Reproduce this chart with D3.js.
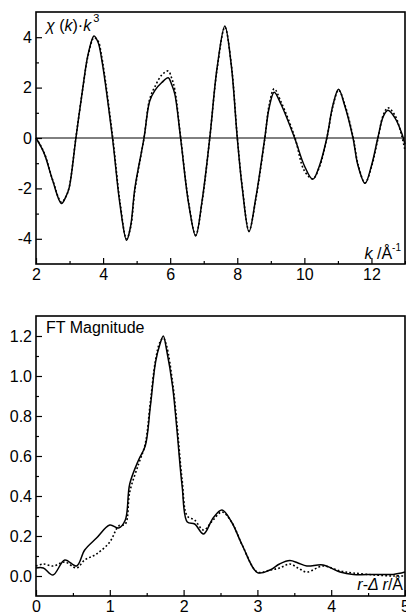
<!DOCTYPE html>
<html>
<head>
<meta charset="utf-8">
<script src="https://cdn.jsdelivr.net/npm/d3@7"></script>
<style>
  body { margin: 0; background: #fff; }
  svg { display: block; font-family: "Liberation Sans", Arial, sans-serif; }
  .frame { fill: none; stroke: #000; stroke-width: 1.6; }
  .tick line { stroke: #000; stroke-width: 1.2; }
  .domain { display: none; }
  .tick text { font-size: 16px; fill: #000; }
</style>
</head>
<body>
<script>
"use strict";

// EXAFS chi(k)*k^3 (experiment solid, fit dotted)
const kValues = [2.0, 2.15, 2.27, 2.5, 2.76, 2.9, 2.99, 3.19, 3.41, 3.55, 3.73, 3.85, 3.95, 4.28, 4.5, 4.7, 4.82, 4.95,
  5.22, 5.39, 5.55, 5.75, 5.94, 6.05, 6.14, 6.31, 6.55, 6.76, 6.95, 7.18, 7.4, 7.63, 7.82, 8.0, 8.15, 8.35, 8.55, 8.82,
  8.95, 9.1, 9.3, 9.71, 10.0, 10.25, 10.45, 10.67, 10.85, 11.02, 11.2, 11.45, 11.6, 11.81, 12.0, 12.19, 12.35, 12.49,
  12.7, 12.9, 13.0];
const chiExp = [0, -0.35, -0.7, -1.7, -2.6, -2.3, -1.97, 0, 2.13, 3.3, 4.05, 3.8, 3.19, 0, -2.6, -4.06, -3.5, -1.97,
  0, 1.47, 1.9, 2.2, 2.39, 2.1, 1.73, 0, -2.6, -3.89, -2.5, 0, 2.8, 4.44, 2.9, 0, -2.0, -3.72, -2.4, 0,
  1.2, 1.82, 1.35, 0, -1.1, -1.64, -1.1, 0, 1.3, 1.93, 1.3, 0, -1.1, -1.8, -1.1, 0, 0.85, 1.1,
  0.8, 0.2, -0.25];
const chiFit = [0, -0.33, -0.68, -1.68, -2.55, -2.3, -1.95, 0.02, 2.1, 3.25, 3.98, 3.85, 3.3, 0.1, -2.5, -4.0, -3.55, -2.05,
  0, 1.55, 2.05, 2.5, 2.66, 2.35, 1.9, 0.05, -2.55, -3.85, -2.55, 0, 2.75, 4.4, 2.95, 0.05, -1.95, -3.68, -2.45, -0.05,
  1.3, 1.95, 1.45, 0.05, -1.3, -1.62, -1.15, 0, 1.25, 1.9, 1.35, 0.05, -1.05, -1.78, -1.15, -0.05, 0.9, 1.2,
  0.9, 0.1, -0.5];

// Fourier transform magnitude
const rValues = [0, 0.1, 0.23, 0.39, 0.55, 0.66, 0.82, 1.0, 1.12, 1.21, 1.27, 1.39, 1.48, 1.55, 1.62, 1.68, 1.725,
  1.77, 1.85, 1.91, 1.98, 2.05, 2.15, 2.27, 2.4, 2.52, 2.65, 2.8, 3.0, 3.17, 3.3, 3.44, 3.55, 3.67, 3.89, 4.12, 4.3,
  4.6, 4.84, 5.0];
const ftExp = [0.04, 0.04, 0.005, 0.08, 0.05, 0.13, 0.19, 0.255, 0.24, 0.28, 0.46, 0.58, 0.65, 0.85, 1.07, 1.16, 1.2,
  1.13, 0.95, 0.73, 0.45, 0.27, 0.26, 0.21, 0.29, 0.33, 0.27, 0.15, 0.017, 0.03, 0.06, 0.077, 0.065, 0.05, 0.055, 0.02, 0.008,
  0.008, 0.008, 0.02];
const ftFit = [0.05, 0.06, 0.05, 0.07, 0.04, 0.08, 0.11, 0.17, 0.25, 0.26, 0.42, 0.56, 0.66, 0.87, 1.08, 1.17, 1.19,
  1.15, 0.97, 0.76, 0.48, 0.3, 0.28, 0.23, 0.28, 0.32, 0.27, 0.15, 0.02, 0.03, 0.04, 0.06, 0.04, 0.02, 0.05, 0.025, 0.015,
  0.005, 0, 0];

const topTicksX = [2, 4, 6, 8, 10, 12];
const topTicksY = [-4, -2, 0, 2, 4];
const botTicksX = [0, 1, 2, 3, 4, 5];
const botTicksY = [0, 0.2, 0.4, 0.6, 0.8, 1.0, 1.2];

const w = 406;
const h = 616;
const svg = d3.select("body").append("svg").attr("width", w).attr("height", h);

// draws one framed panel and returns its scales
const panel = (box, xDomain, yDomain, xTicks, xMinor, yTicks, yMinor, yFmt) => {
  const x = d3.scaleLinear().domain(xDomain).range([box.left, box.right]);
  const y = d3.scaleLinear().domain(yDomain).range([box.bottom, box.top]);
  const g = svg.append("g");

  g.append("g").attr("transform", `translate(0,${box.bottom})`)
    .call(d3.axisBottom(x).tickValues(xMinor).tickSize(-3).tickFormat(""));
  g.append("g").attr("transform", `translate(0,${box.bottom})`)
    .call(d3.axisBottom(x).tickValues(xTicks).tickSize(-6).tickPadding(5).tickFormat(d3.format("d")));
  g.append("g").attr("transform", `translate(${box.left},0)`)
    .call(d3.axisLeft(y).tickValues(yMinor).tickSize(-3).tickFormat(""));
  g.append("g").attr("transform", `translate(${box.left},0)`)
    .call(d3.axisLeft(y).tickValues(yTicks).tickSize(-6).tickPadding(4).tickFormat(yFmt));

  g.selectAll(".tick text").text(function () { return this.textContent.replace("−", "-"); });

  g.append("rect").attr("class", "frame")
    .attr("x", box.left).attr("y", box.top)
    .attr("width", box.right - box.left).attr("height", box.bottom - box.top);
  return { x, y, g };
};

const drawLine = (p, xs, ys, dotted) => {
  const line = d3.line().x((d) => p.x(d[0])).y((d) => p.y(d[1])).curve(d3.curveCatmullRom.alpha(0.5));
  p.g.append("path")
    .datum(xs.map((v, i) => [v, ys[i]]))
    .attr("fill", "none")
    .attr("stroke", "#000")
    .attr("stroke-width", dotted ? 1.6 : 1.5)
    .attr("stroke-dasharray", dotted ? "1.8,2.2" : null)
    .attr("d", line);
};

//Top panel
const chiPanel = panel({ left: 36, right: 405, top: 12, bottom: 264 }, [2, 13], [-5, 5],
  topTicksX, [3, 5, 7, 9, 11, 13], topTicksY, [-3, -1, 1, 3], d3.format("d"));

chiPanel.g.append("line")
  .attr("x1", chiPanel.x(2)).attr("x2", chiPanel.x(13))
  .attr("y1", chiPanel.y(0)).attr("y2", chiPanel.y(0))
  .attr("stroke", "#000").attr("stroke-width", 1);

drawLine(chiPanel, kValues, chiFit, true);
drawLine(chiPanel, kValues, chiExp, false);

const t1 = chiPanel.g.append("text").attr("x", 46).attr("y", 31).attr("font-size", 16);
t1.append("tspan").attr("font-style", "italic").text("χ");
t1.append("tspan").text(" (");
t1.append("tspan").attr("font-style", "italic").text("k");
t1.append("tspan").text(")·");
t1.append("tspan").attr("font-style", "italic").text("k");
t1.append("tspan").attr("dy", -9).attr("dx", 2).attr("font-size", 11).text("3");

const t2 = chiPanel.g.append("text").attr("x", 401).attr("y", 259).attr("font-size", 16).attr("text-anchor", "end");
t2.append("tspan").attr("font-style", "italic").text("k");
t2.append("tspan").text(" /Å");
t2.append("tspan").attr("dy", -8).attr("font-size", 10).text("-1");

//Bottom panel
const ftPanel = panel({ left: 36, right: 405, top: 316, bottom: 596 }, [0, 5], [-0.1, 1.3],
  botTicksX, d3.range(0.5, 5, 1), botTicksY, [0.1, 0.3, 0.5, 0.7, 0.9, 1.1], d3.format(".1f"));

drawLine(ftPanel, rValues, ftFit, true);
drawLine(ftPanel, rValues, ftExp, false);

ftPanel.g.append("text").attr("x", 46).attr("y", 333).attr("font-size", 16).text("FT Magnitude");

const t3 = ftPanel.g.append("text").attr("x", 403).attr("y", 590).attr("font-size", 16).attr("text-anchor", "end");
t3.append("tspan").attr("font-style", "italic").text("r");
t3.append("tspan").text("-");
t3.append("tspan").attr("font-style", "italic").text("Δ r");
t3.append("tspan").text("/Å");
</script>
</body>
</html>
